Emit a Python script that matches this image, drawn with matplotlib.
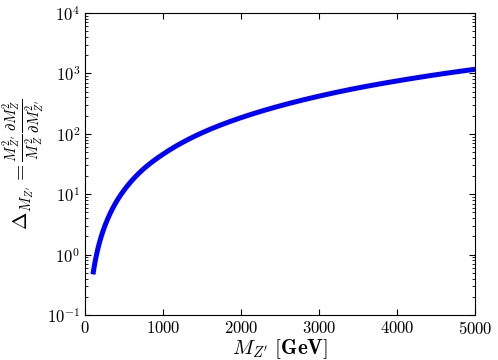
import matplotlib
matplotlib.use('Agg')
import matplotlib.pyplot as plt
import numpy as np

plt.rcParams['mathtext.fontset'] = 'cm'
plt.rcParams['font.family'] = 'serif'
plt.rcParams['font.serif'] = ['cmr10', 'DejaVu Serif']
plt.rcParams['axes.formatter.use_mathtext'] = True

# values
mzp = [100, 150, 200, 300, 400, 500, 750, 1000, 1500, 2000, 2500, 3000, 3500, 4000, 4500, 5000]
delta = [0.47, 1.06, 1.88, 4.2, 7.5, 11.7, 26.3, 46, 104, 185, 290, 420, 575, 750, 950, 1170]

fig = plt.figure(figsize=(4.98, 3.6), dpi=100)
ax = fig.add_axes([0.171, 0.125, 0.783, 0.839])

# join the read points smoothly (log-log interpolation)
xs = np.linspace(mzp[0], mzp[-1], 600)
ys = 10 ** np.interp(np.log10(xs), np.log10(mzp), np.log10(delta))
ax.plot(xs, ys, color='blue', lw=3.6, solid_capstyle='butt')

ax.set_yscale('log')
ax.set_xlim(0, 5000)
ax.set_ylim(1e-1, 1e4)
ax.set_xticks([0, 1000, 2000, 3000, 4000, 5000])

ax.tick_params(which='both', direction='in', top=True, right=True, labelsize=12)
ax.tick_params(which='major', length=4)
ax.tick_params(which='minor', length=2)

ax.set_xlabel(r"$M_{Z'}\ \mathbf{[GeV]}$", fontsize=15, labelpad=0)
ax.set_ylabel(r"$\Delta_{M_{Z'}}=\frac{M_{Z'}^2}{M_Z^2}\frac{\partial M_Z^2}{\partial M_{Z'}^2}$",
              fontsize=15, labelpad=0)

fig.savefig('out.png', dpi=100)
